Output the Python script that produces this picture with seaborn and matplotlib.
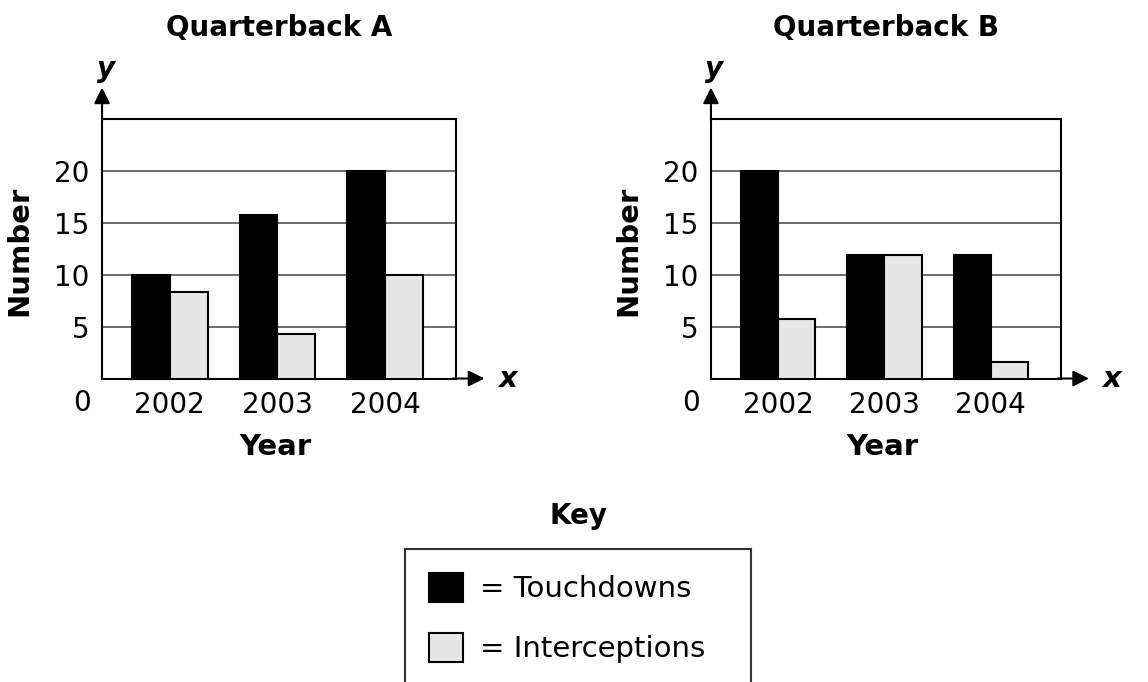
import pandas as pd
import matplotlib
matplotlib.use("Agg")
import matplotlib.pyplot as plt
import seaborn as sns
from matplotlib.patches import Patch

# Данные
years = ["2002", "2003", "2004"]
qb_a_touchdowns = [10, 15.75, 20]
qb_a_interceptions = [8.3, 4.25, 10]
qb_b_touchdowns = [20, 11.9, 11.9]
qb_b_interceptions = [5.7, 11.85, 1.6]
series = ["Touchdowns", "Interceptions"]
colors = {"Touchdowns": "black", "Interceptions": "#e6e6e6"}

sns.set_style("white")
plt.rcParams["font.family"] = ["DejaVu Sans"]
plt.rcParams.update({"text.color": "black", "axes.labelcolor": "black",
                     "xtick.color": "black", "ytick.color": "black"})


def make_df(td, ints):
    return pd.DataFrame({
        "Year": years * 2,
        "Number": td + ints,
        "Kind": [series[0]] * len(years) + [series[1]] * len(years),
    })


fig = plt.figure(figsize=(11.48, 6.82), dpi=100)
ax_a = fig.add_axes([0.0889, 0.445, 0.3084, 0.381])
ax_b = fig.add_axes([0.6193, 0.445, 0.3049, 0.381])

panels = [
    (ax_a, make_df(qb_a_touchdowns, qb_a_interceptions), "Quarterback A"),
    (ax_b, make_df(qb_b_touchdowns, qb_b_interceptions), "Quarterback B"),
]

for ax, df, title in panels:
    sns.barplot(data=df, x="Year", y="Number", hue="Kind", hue_order=series,
                palette=colors, edgecolor="black", linewidth=1.5, width=0.7,
                legend=False, ax=ax, zorder=3)
    ax.set_ylim(0, 25)
    ax.set_xlim(-0.63, 2.66)
    ax.set_yticks([5, 10, 15, 20])
    ax.yaxis.grid(True, color="#444444", linewidth=1.1)
    ax.set_axisbelow(True)
    for sp in ax.spines.values():
        sp.set_visible(True)
        sp.set_color("black")
        sp.set_linewidth(1.5)
    ax.tick_params(axis="both", length=0, labelsize=20)
    ax.tick_params(axis="x", pad=9)
    ax.tick_params(axis="y", pad=9)

    ax.set_xlabel("Year", fontsize=21, fontweight="bold")
    ax.set_ylabel("Number", fontsize=21, fontweight="bold")
    ax.xaxis.set_label_coords(0.49, -0.21)
    ax.yaxis.set_label_coords(-0.195, 0.49)

    ax.text(0.5, 1.348, title, transform=ax.transAxes, ha="center",
            va="center", fontsize=20, fontweight="bold")

    # стрелки осей и подписи x / y
    ax.annotate("", xy=(0, 1.12), xytext=(0, 0.99), xycoords="axes fraction",
                arrowprops=dict(arrowstyle="-|>", color="black", lw=1.5,
                                mutation_scale=24, shrinkA=0, shrinkB=0))
    ax.annotate("", xy=(1.08, 0), xytext=(0.99, 0), xycoords="axes fraction",
                arrowprops=dict(arrowstyle="-|>", color="black", lw=1.5,
                                mutation_scale=24, shrinkA=0, shrinkB=0))
    ax.text(0.01, 1.19, "y", transform=ax.transAxes, ha="center", va="center",
            fontsize=20, fontweight="bold", style="italic")
    ax.text(1.145, 0.0, "x", transform=ax.transAxes, ha="center", va="center",
            fontsize=21, fontweight="bold", style="italic")
    ax.text(-0.057, -0.094, "0", transform=ax.transAxes, ha="center",
            va="center", fontsize=20)

# Ключ
fig.text(0.5035, 0.2434, "Key", ha="center", va="center", fontsize=20,
         fontweight="bold")
handles = [Patch(facecolor=colors[s], edgecolor="black", linewidth=1.5)
           for s in series]
leg = fig.legend(handles, ["= " + s for s in series], loc="upper left",
                 bbox_to_anchor=(0.3528, 0.0, 0.3014, 0.195), mode="expand",
                 fontsize=21, frameon=True, fancybox=False, edgecolor="black",
                 handlelength=1.16, handleheight=1.16, handletextpad=0.6,
                 labelspacing=1.0, borderpad=0.82, borderaxespad=0)
leg.get_frame().set_linewidth(1.5)

fig.savefig("out.png", dpi=100)
